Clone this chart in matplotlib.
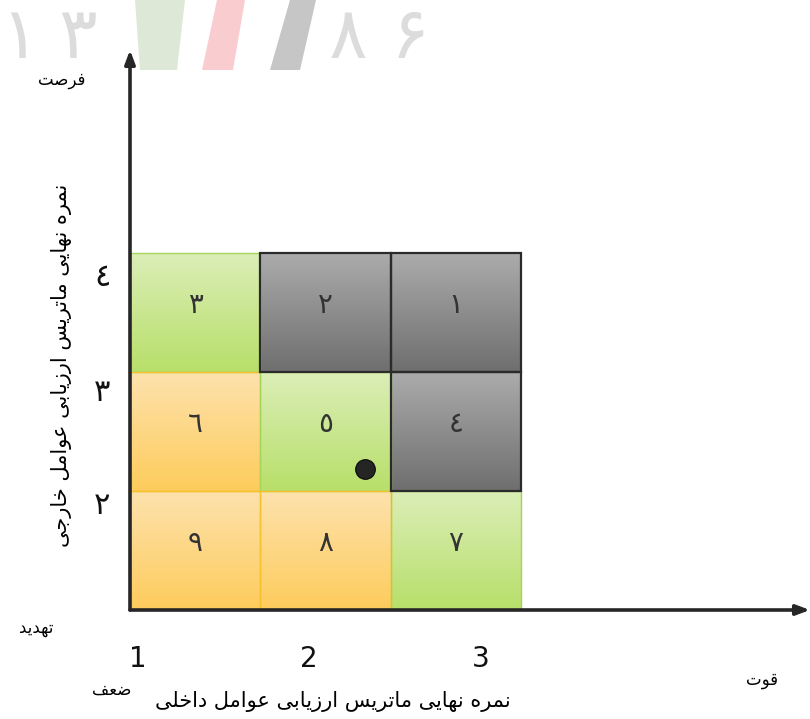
#!/usr/bin/env python3
"""
IE matrix (internal / external evaluation) with the company position marked.
"""

import matplotlib
matplotlib.use("Agg")
import matplotlib.pyplot as plt
from matplotlib.colors import LinearSegmentedColormap
from matplotlib.patches import Rectangle, Polygon
import numpy as np

plt.rcParams['font.family'] = ['DejaVu Sans']

# ---- data -------------------------------------------------------------
# cell numbers, row by row from the top (arabic-indic digits)
cell_numbers = [3, 2, 1,
                6, 5, 4,
                9, 8, 7]
# strategy zone of each cell
cell_zones = ['hold', 'grow', 'grow',
              'harvest', 'hold', 'grow',
              'harvest', 'harvest', 'hold']
x_tick_labels = ['1', '2', '3']          # IFE score
y_tick_labels = ['٢', '٣', '٤']          # EFE score
ife_score = 2.33
efe_score = 2.30

x_title = 'نمره نهایی ماتریس ارزیابی عوامل داخلی'
y_title = 'نمره نهایی ماتریس ارزیابی عوامل خارجی'
corner_labels = {'opportunity': 'فرصت', 'threat': 'تهدید',
                 'weakness': 'ضعف', 'strength': 'قوت'}
watermark = '۱۳۸۶'

# ---- simple arabic shaping (matplotlib has no shaper / bidi) ----------
FORMS = {  # isolated, final, initial, medial
    'ا': (0xFE8D, 0xFE8E), 'د': (0xFEA9, 0xFEAA), 'ر': (0xFEAD, 0xFEAE),
    'ز': (0xFEAF, 0xFEB0), 'و': (0xFEED, 0xFEEE),
    'ب': (0xFE8F, 0xFE90, 0xFE91, 0xFE92), 'ت': (0xFE95, 0xFE96, 0xFE97, 0xFE98),
    'ج': (0xFE9D, 0xFE9E, 0xFE9F, 0xFEA0), 'خ': (0xFEA5, 0xFEA6, 0xFEA7, 0xFEA8),
    'س': (0xFEB1, 0xFEB2, 0xFEB3, 0xFEB4), 'ص': (0xFEB9, 0xFEBA, 0xFEBB, 0xFEBC),
    'ض': (0xFEBD, 0xFEBE, 0xFEBF, 0xFEC0), 'ع': (0xFEC9, 0xFECA, 0xFECB, 0xFECC),
    'ف': (0xFED1, 0xFED2, 0xFED3, 0xFED4), 'ق': (0xFED5, 0xFED6, 0xFED7, 0xFED8),
    'ل': (0xFEDD, 0xFEDE, 0xFEDF, 0xFEE0), 'م': (0xFEE1, 0xFEE2, 0xFEE3, 0xFEE4),
    'ن': (0xFEE5, 0xFEE6, 0xFEE7, 0xFEE8), 'ه': (0xFEE9, 0xFEEA, 0xFEEB, 0xFEEC),
    'ی': (0xFEEF, 0xFEF0, 0xFEF3, 0xFEF4),
}


def shape(text):
    out = []
    for i, ch in enumerate(text):
        if ch not in FORMS:
            out.append(ch)
            continue
        prev = text[i - 1] if i > 0 else ''
        nxt = text[i + 1] if i + 1 < len(text) else ''
        join_prev = prev in FORMS and len(FORMS[prev]) == 4
        join_next = len(FORMS[ch]) == 4 and nxt in FORMS
        f = FORMS[ch]
        if join_prev and join_next:
            out.append(chr(f[3]))
        elif join_prev:
            out.append(chr(f[1]))
        elif join_next:
            out.append(chr(f[2]))
        else:
            out.append(chr(f[0]))
    return ''.join(reversed(out))


def to_arabic_digits(n):
    return ''.join(chr(0x0660 + int(d)) for d in str(n))


# ---- figure -----------------------------------------------------------
W, H = 810, 719
fig = plt.figure(figsize=(W / 100, H / 100), dpi=100)


def px(x, y):
    return x / W, 1 - y / H


# watermark year with the flag-like bars
wm_pos = [20, 78, 348, 410]
for ch, x in zip(watermark, wm_pos):
    fig.text(*px(x, 38), ch, fontsize=52, color='#dcdcdc', ha='center',
             va='center', zorder=0)
for pts, col in [([(135, 0), (185, 0), (177, 70), (140, 70)], '#dde9d6'),
                 ([(217, 0), (245, 0), (233, 70), (202, 70)], '#f9cdd0'),
                 ([(290, 0), (316, 0), (300, 70), (270, 70)], '#c6c6c6')]:
    fig.patches.append(Polygon([px(a, b) for a, b in pts], closed=True,
                               transform=fig.transFigure, facecolor=col,
                               edgecolor='none', zorder=0))

ax = fig.add_axes([130 / W, (H - 610) / H, (W - 130) / W, (610 - 40) / H])
ax.patch.set_alpha(0)
cell_w, cell_h = 130.3, 119.0
for s in ax.spines.values():
    s.set_visible(False)

zone_style = {
    'grow': ('#ababab', '#6f6f6f', '#2b2b2b', 1.6),
    'hold': ('#dbeeb7', '#b8df6a', '#a6d45a', 1.0),
    'harvest': ('#fee2ad', '#fdcc5c', '#f6c12f', 1.0),
}

grad = np.linspace(0, 1, 64).reshape(-1, 1)
for k, (num, zone) in enumerate(zip(cell_numbers, cell_zones)):
    r, c = divmod(k, 3)
    x0, y0 = c, 2 - r
    top, bot, edge, lw = zone_style[zone]
    cmap = LinearSegmentedColormap.from_list(zone, [top, bot])
    ax.imshow(grad, cmap=cmap, extent=(x0, x0 + 1, y0, y0 + 1),
              origin='upper', aspect='auto', zorder=1)
    ax.add_patch(Rectangle((x0, y0), 1, 1, fill=False, edgecolor=edge,
                           lw=lw, zorder=2 if zone != 'grow' else 3))
    ax.text(x0 + 0.5, y0 + 0.56, to_arabic_digits(num), fontsize=20,
            color='#333333', ha='center', va='center', zorder=4)

ax.set_xlim(0, (W - 130) / cell_w)
ax.set_ylim(0, (610 - 40) / cell_h)

# axis arrows
ax.annotate('', xy=(1.0, 0), xytext=(0, 0), xycoords='axes fraction',
            arrowprops=dict(arrowstyle='-|>,head_length=0.8,head_width=0.3',
                            lw=2.6, color='#262626', shrinkA=0, shrinkB=0),
            zorder=5, annotation_clip=False)
ax.annotate('', xy=(0, (610 - 50) / 570), xytext=(0, 0), xycoords='axes fraction',
            arrowprops=dict(arrowstyle='-|>,head_length=0.8,head_width=0.3',
                            lw=2.6, color='#262626', shrinkA=0, shrinkB=0),
            zorder=5, annotation_clip=False)

# ticks placed where the scores sit in the drawing
x_tick_pos = [0.06, 1.37, 2.69]
y_tick_pos = [0.90, 1.85, 2.82]
ax.set_xticks(x_tick_pos, x_tick_labels)
ax.set_yticks(y_tick_pos, y_tick_labels)
ax.tick_params(length=0, labelsize=20, labelcolor='#111111')
ax.tick_params(axis='x', pad=25)
ax.tick_params(axis='y', pad=14, labelsize=22)

# company position
x_pt = x_tick_pos[0] + (ife_score - 1) * (x_tick_pos[1] - x_tick_pos[0])
y_pt = y_tick_pos[0] + (efe_score - 2) * (y_tick_pos[1] - y_tick_pos[0])
ax.plot([x_pt], [y_pt], 'o', ms=14, color='#252525', mec='#111111', zorder=6)

# titles and corner words
fig.text(*px(333, 702), shape(x_title), fontsize=15, ha='center', va='center')
fig.text(*px(62, 365), shape(y_title), fontsize=15, ha='center', va='center',
         rotation=90)
fig.text(*px(62, 80), shape(corner_labels['opportunity']), fontsize=12,
         ha='center', va='center')
fig.text(*px(36, 628), shape(corner_labels['threat']), fontsize=12,
         ha='center', va='center')
fig.text(*px(112, 690), shape(corner_labels['weakness']), fontsize=12,
         ha='center', va='center')
fig.text(*px(762, 680), shape(corner_labels['strength']), fontsize=12,
         ha='center', va='center')

fig.savefig('out.png', dpi=100)
